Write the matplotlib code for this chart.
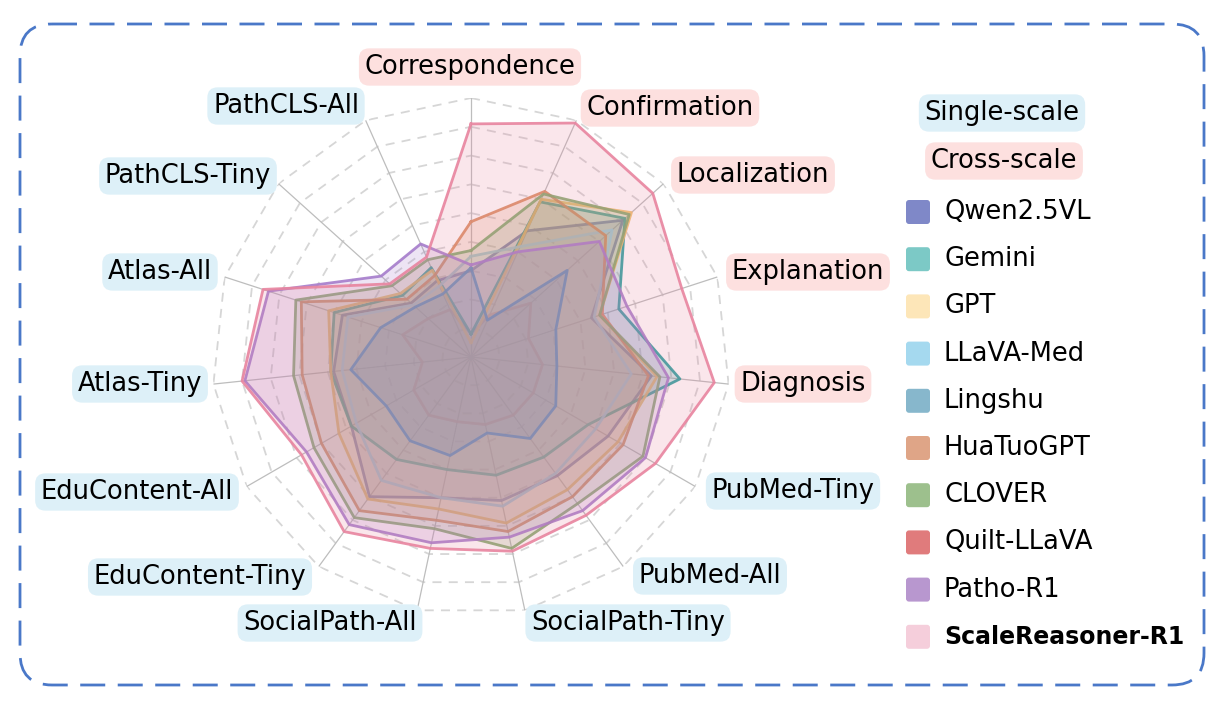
import numpy as np
import matplotlib.pyplot as plt
from matplotlib.patches import FancyBboxPatch

plt.rcParams['font.family'] = ['DejaVu Sans']

# axes of the radar, clockwise from the top
dims = ['Correspondence', 'Confirmation', 'Localization', 'Explanation', 'Diagnosis',
        'PubMed-Tiny', 'PubMed-All', 'SocialPath-Tiny', 'SocialPath-All',
        'EduContent-Tiny', 'EduContent-All', 'Atlas-Tiny', 'Atlas-All',
        'PathCLS-Tiny', 'PathCLS-All']
cross_scale = ['Correspondence', 'Confirmation', 'Localization', 'Explanation', 'Diagnosis']

models = ['Qwen2.5VL', 'Gemini', 'GPT', 'LLaVA-Med', 'Lingshu',
          'HuaTuoGPT', 'CLOVER', 'Quilt-LLaVA', 'Patho-R1', 'ScaleReasoner-R1']

qwen      = [30, 48, 71, 44, 63, 55, 51, 51, 50, 60, 48, 48, 47, 28, 29]
gemini    = [8, 59, 72, 54, 73, 47, 43, 42, 40, 44, 48, 49, 50, 32, 34]
gpt       = [5, 60, 75, 47, 65, 59, 57, 59, 54, 61, 53, 49, 52, 33, 33]
llava_med = [35, 42, 66, 45, 56, 50, 50, 53, 50, 53, 46, 45, 45, 27, 27]
lingshu   = [31, 14, 45, 31, 30, 34, 35, 27, 35, 36, 34, 42, 33, 26, 24]
huatuo    = [47, 63, 63, 48, 62, 61, 60, 62, 58, 66, 60, 59, 62, 30, 31]
clover    = [37, 62, 74, 47, 66, 69, 63, 68, 61, 69, 63, 62, 64, 37, 37]
quilt     = [8, 16, 28, 21, 25, 25, 25, 24, 23, 25, 23, 17, 25, 20, 18]
patho     = [32, 40, 60, 57, 69, 70, 66, 64, 66, 72, 66, 79, 74, 42, 43]
scalereas = [81, 89, 85, 77, 85, 74, 68, 69, 68, 75, 68, 80, 76, 38, 38]

series = [qwen, gemini, gpt, llava_med, lingshu, huatuo, clover, quilt, patho, scalereas]
line_colors = ['#6f77b8', '#1f9e9c', '#f0c06a', '#9fd2ea', '#5a93b4',
               '#d98a5e', '#82a96c', '#eaa4a4', '#a57ccb', '#e8849f']
patch_colors = ['#7f88c8', '#7cc9c6', '#fde6b8', '#a5d9ef', '#87b7cc',
                '#dfa587', '#9dc08d', '#e07b7c', '#b897cf', '#f5cedb']
# drawing order (index into the lists above), back to front
draw_order = [7, 0, 1, 2, 3, 5, 6, 4, 8, 9]

W, H = 1228, 705
fig = plt.figure(figsize=(W / 100, H / 100), dpi=100)

cx, cy, rad = 471, 357, 259
ax = fig.add_axes([(cx - rad) / W, 1 - (cy + rad) / H, 2 * rad / W, 2 * rad / H],
                  projection='polar')
ax.set_theta_offset(np.pi / 2)
ax.set_theta_direction(-1)
ax.set_ylim(0, 90)
ax.grid(False)
ax.set_xticks([])
ax.set_yticks([])
ax.spines['polar'].set_visible(False)
ax.patch.set_alpha(0)

n = len(dims)
theta = np.linspace(0, 2 * np.pi, n, endpoint=False)
theta_c = np.append(theta, theta[0])

# polygon grid
for r in range(10, 100, 10):
    ax.plot(theta_c, [r] * (n + 1), ls=(0, (5, 4)), color='#d6d6d6', lw=1.3, zorder=1)
for t in theta:
    ax.plot([t, t], [0, 90], color='#bdbdbd', lw=0.9, zorder=1)

z = 2
for i in draw_order:
    v = series[i] + series[i][:1]
    lc = line_colors[i]
    ax.fill(theta_c, v, color=lc, alpha=0.2, zorder=z, lw=0)
    ax.plot(theta_c, v, color=lc, lw=2, alpha=0.9, zorder=z + 0.5)
    z += 1

# overlay in pixel coordinates for labels, legend and frame
ov = fig.add_axes([0, 0, 1, 1])
ov.set_xlim(0, W)
ov.set_ylim(H, 0)
ov.axis('off')

fs = 18.5
blue_bg = '#ddf0f8'
pink_bg = '#fde0df'
box = dict(boxstyle='round,pad=0.22,rounding_size=0.4', ec='none')
label_pos = {
    'Correspondence': (470, 67), 'Confirmation': (670, 108), 'Localization': (753, 175),
    'Explanation': (808, 272), 'Diagnosis': (803, 384), 'PubMed-Tiny': (793, 491),
    'PubMed-All': (710, 576), 'SocialPath-Tiny': (628, 623), 'SocialPath-All': (330, 623),
    'EduContent-Tiny': (200, 577), 'EduContent-All': (137, 492), 'Atlas-Tiny': (140, 384),
    'Atlas-All': (160, 272), 'PathCLS-Tiny': (188, 176), 'PathCLS-All': (286, 106),
}
for name in dims:
    x, y = label_pos[name]
    bg = pink_bg if name in cross_scale else blue_bg
    ov.text(x, y, name, fontsize=fs, ha='center', va='center', bbox=dict(box, fc=bg))

# legend
ov.text(1002, 113, 'Single-scale', fontsize=fs, ha='center', va='center',
        bbox=dict(box, fc=blue_bg))
ov.text(1004, 161, 'Cross-scale', fontsize=fs, ha='center', va='center',
        bbox=dict(box, fc=pink_bg))
for i, (m, pc) in enumerate(zip(models, patch_colors)):
    y = 212 + 47.2 * i
    ov.add_patch(FancyBboxPatch((906, y - 12), 24, 24, boxstyle='round,pad=0,rounding_size=3',
                                fc=pc, ec='none'))
    bold = m == 'ScaleReasoner-R1'
    ov.text(944, y, m, fontsize=fs if not bold else 17, ha='left', va='center',
            fontweight='bold' if bold else 'normal')

# dashed frame
ov.add_patch(FancyBboxPatch((20, 24), 1184, 661, boxstyle='round,pad=0,rounding_size=32',
                            fill=False, ec='#4a78c8', lw=2, ls=(0, (9, 4.5))))

fig.savefig('out.png', dpi=100)
